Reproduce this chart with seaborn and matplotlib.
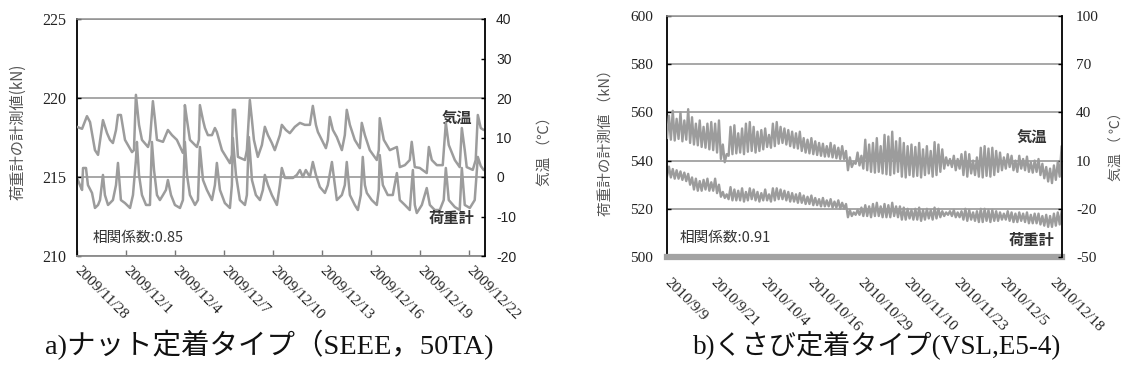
import matplotlib
matplotlib.use("Agg")
import matplotlib.pyplot as plt
import pandas as pd
import seaborn as sns

# ---------------- a) nut anchorage (SEEE, 50TA) ----------------
a_start = "2009/11/28"
a_ticks = ["2009/11/28", "2009/12/1", "2009/12/4", "2009/12/7", "2009/12/10",
           "2009/12/13", "2009/12/16", "2009/12/19", "2009/12/22"]
a_load_ticks = [210, 215, 220, 225]
a_temp_ticks = [-20, -10, 0, 10, 20, 30, 40]

# air temperature (deg C), time in days from the start date
a_temp_day = [0, 0.18, 0.31, 0.61, 0.80, 1.10, 1.29, 1.59, 1.84, 2.02, 2.20, 2.39, 2.51, 2.69,
              2.94, 3.37, 3.49, 3.61, 3.80, 3.98, 4.35, 4.47, 4.65, 4.78, 4.90, 5.27, 5.57, 5.82,
              6.12, 6.49, 6.55, 6.61, 6.74, 6.92, 7.35, 7.47, 7.53, 7.72, 7.84, 8.02, 8.27, 8.45,
              8.57, 8.88, 9.37, 9.49, 9.55, 9.68, 9.86, 10.29, 10.41, 10.59, 10.72, 10.84, 11.08,
              11.33, 11.51, 11.70, 11.94, 12.12, 12.43, 12.55, 12.80, 13.04, 13.35, 13.66, 13.96,
              14.27, 14.45, 14.64, 14.76, 15.00, 15.25, 15.37, 15.49, 15.68, 15.92, 16.23, 16.41,
              16.53, 16.72, 17.02, 17.33, 17.45, 17.64, 17.94, 18.37, 18.49, 18.55, 18.80, 19.17,
              19.60, 19.78, 20.09, 20.39, 20.51, 20.70, 21.00, 21.43, 21.56, 21.74, 22.05, 22.41,
              22.60, 22.78, 23.15, 23.45, 23.58, 23.76, 23.88, 24.25, 24.43, 24.56, 24.74, 24.92]
a_temp_val = [12.7, 12.4, 12.2, 15.4, 13.9, 6.8, 5.6, 14.4, 11.1, 9.4, 8.6, 11.9, 15.7, 15.7,
              9.4, 6.3, 6.8, 20.8, 13.2, 9.4, 7.6, 9.4, 19.2, 14.4, 9.4, 8.9, 11.9, 10.6,
              9.4, 6.1, 6.8, 18.2, 14.4, 9.4, 7.6, 9.4, 18.2, 14.4, 12.4, 10.6, 10.6, 12.4,
              11.4, 6.8, 3.5, 5.6, 17.0, 17.0, 5.1, 4.3, 6.8, 19.5, 14.4, 9.4, 5.1,
              8.1, 12.7, 10.6, 8.6, 6.8, 10.6, 13.2, 11.9, 11.1, 12.7, 13.7, 13.2,
              13.2, 18.0, 13.2, 11.4, 9.4, 7.3, 9.4, 15.2, 11.9, 10.1, 6.8, 10.6,
              17.0, 13.2, 9.4, 7.3, 13.7, 10.6, 6.8, 4.3, 6.8, 14.9, 9.4, 6.8,
              7.6, 2.5, 3.0, 4.3, 8.9, 2.5, 2.3, 1.0, 7.6, 4.3, 3.0, 3.0,
              13.7, 8.1, 4.3, 2.5, 12.4, 6.8, 2.5, 1.8, 4.3, 15.7, 12.4, 11.9]

# load-cell reading (kN)
a_load_day = [0, 0.18, 0.31, 0.37, 0.55, 0.67, 0.92, 1.10, 1.29, 1.41, 1.59, 1.71, 1.90, 2.02,
              2.20, 2.39, 2.51, 2.69, 2.94, 3.25, 3.43, 3.61, 3.67, 3.80, 3.98, 4.23, 4.47, 4.59,
              4.72, 4.90, 5.08, 5.27, 5.45, 5.57, 5.76, 6.00, 6.31, 6.49, 6.61, 6.74, 6.92, 7.23,
              7.41, 7.53, 7.72, 7.96, 8.27, 8.45, 8.57, 8.76, 9.06, 9.37, 9.49, 9.55, 9.74, 9.98,
              10.29, 10.41, 10.53, 10.72, 10.96, 11.21, 11.39, 11.51, 11.70, 11.94, 12.25, 12.43,
              12.55, 12.74, 13.04, 13.23, 13.47, 13.66, 13.84, 14.02, 14.27, 14.45, 14.64, 14.88,
              15.19, 15.37, 15.62, 15.80, 15.92, 16.23, 16.41, 16.53, 16.72, 17.02, 17.21, 17.39,
              17.51, 17.64, 17.76, 18.06, 18.37, 18.49, 18.55, 18.74, 19.04, 19.35, 19.60, 19.78,
              20.09, 20.39, 20.58, 20.70, 20.82, 21.13, 21.43, 21.62, 21.92, 22.23, 22.47, 22.60,
              22.78, 23.15, 23.45, 23.58, 23.76, 24.07, 24.37, 24.56, 24.74, 24.92]
a_load_val = [214.94, 214.49, 214.18, 215.57, 215.57, 214.49, 213.99, 213.04, 213.23, 213.54,
              215.13, 213.86, 213.23, 213.35, 213.54, 214.49, 215.89, 213.54, 213.35, 213.04,
              213.86, 216.08, 217.22, 215.13, 213.86, 213.23, 213.23, 217.22, 215.44, 213.86,
              213.54, 213.86, 214.18, 214.81, 213.86, 213.23, 213.04, 213.54, 217.22, 215.13,
              213.86, 213.23, 213.54, 216.90, 214.81, 214.18, 213.54, 214.49, 215.89, 214.18,
              213.35, 213.04, 214.49, 217.47, 215.13, 213.54, 213.23, 213.86, 217.53, 214.81,
              213.86, 213.54, 214.18, 215.13, 214.49, 213.86, 213.23, 214.49, 215.57, 214.94,
              214.94, 214.94, 215.13, 215.44, 215.00, 215.44, 215.00, 215.95, 215.13, 214.37,
              213.99, 214.49, 215.95, 214.49, 213.54, 213.86, 214.49, 215.95, 213.86, 213.23,
              212.91, 213.86, 216.27, 214.49, 213.99, 213.54, 213.23, 214.18, 216.39, 214.49,
              213.86, 213.86, 215.25, 213.54, 213.23, 212.91, 215.44, 213.23, 212.72, 213.23,
              214.30, 213.23, 212.91, 212.91, 213.54, 215.57, 213.54, 213.10, 212.91, 215.57,
              213.23, 213.04, 213.54, 216.27, 215.70, 215.44]

# ---------------- b) wedge anchorage (VSL, E5-4) ----------------
b_start = "2010/9/9"
b_ticks = ["2010/9/9", "2010/9/21", "2010/10/4", "2010/10/16", "2010/10/29",
           "2010/11/10", "2010/11/23", "2010/12/5", "2010/12/18"]
b_load_ticks = [500, 520, 540, 560, 580, 600]
b_temp_ticks = [-50, -20, 10, 40, 70, 100]

# daily night / daytime air temperature (deg C)
b_temp_low = [24, 23, 22.5, 23.5, 22, 23, 21, 20, 19.5, 18.5, 18, 17, 16.5, 15, 11, 9, 13, 14,
              14.5, 15, 14, 15.5, 16, 15, 16, 17, 18.5, 18, 19, 20.5, 21, 20, 19, 18, 17.5,
              16, 15, 14.5, 14, 13.5, 13, 12.5, 12.5, 12, 11.5, 11, 11, 4, 6, 8, 7, 5, 4, 3,
              2.5, 3, 2, 1.5, 1, 2, 3, 0, -0.5, 1, 0, 0.5, -0.5, 1, 2, 0, 1, 3, 5, 7, 6, 4, 5,
              1, 0, 2, 1, 0, -0.5, 0.5, 0, 1, 3, 4, 5, 6, 4, 3, 5, 4, 3, 2.5, 3, 1, -1, -3,
              -4, -2, 0]
b_temp_high = [38, 41, 36, 40, 35, 42, 37, 33, 35, 31, 33, 34, 33, 35, 20, 14, 31, 32, 27,
               30, 33, 34, 31, 28, 29, 30, 26, 33, 34, 31, 30, 29, 28, 27, 28, 24, 23, 24,
               22, 21, 20.5, 19, 21, 19.5, 18, 19, 16, 12, 9, 15, 13, 23, 20, 21, 24, 19, 26,
               25, 28, 22, 24, 21, 19, 20, 18.5, 21, 17, 19, 16, 21.5, 20, 17, 12, 11, 13,
               11, 14, 15.5, 14, 10, 12, 18, 19, 17.5, 18, 16, 15, 12, 14, 13, 10, 13, 11,
               12.5, 9, 10, 11, 8, 6, 5, 7, 9, 19]

# daily minimum / maximum load-cell reading (kN)
b_load_low = [533.5, 533, 532.5, 532.5, 532, 531.5, 530, 528, 527.5, 527.5, 528, 527.5, 527.5,
              526.5, 525, 524.5, 524, 523.5, 523.5, 523.5, 523, 523.5, 524, 523.5, 523, 523.5,
              523.5, 523, 523.5, 524, 524, 523.5, 523, 523, 522.5, 522.5, 522, 522, 521.5,
              521.5, 521, 521, 521, 520.5, 520.5, 520, 520, 516.5, 517, 517.5, 517.5, 517,
              517, 516.5, 517, 517, 516.5, 516.5, 516.5, 517, 516.5, 515.5, 515.5, 516,
              515.5, 515.5, 515, 515.5, 516, 515.5, 516, 516.5, 517, 517.5, 517, 516.5,
              516.5, 515.5, 515, 515.5, 515, 514.5, 514.5, 515, 514.5, 515, 515, 515.5,
              515.5, 515, 514.5, 514.5, 515, 514.5, 514, 514, 514, 513.5, 513, 512.5, 512.5,
              513, 513.5]
b_load_high = [537.5, 536.5, 536, 535.5, 535, 534.5, 533, 532.5, 531.5, 532, 532.5, 531,
               532.5, 530, 527, 526, 529, 528, 527.5, 528.5, 527, 528.5, 528, 527, 526.5,
               528, 526, 528.5, 528.5, 528, 527.5, 527, 526.5, 526, 526.5, 525.5, 525, 525.5,
               524.5, 524, 524.5, 523.5, 524, 523, 523.5, 522.5, 522, 519.5, 518.5, 519.5,
               520.5, 521.5, 521, 522, 522.5, 521, 522, 521.5, 522.5, 521, 521, 520.5, 520,
               519.5, 520, 520.5, 519.5, 520, 519.5, 520.5, 520, 519, 518.5, 519, 519.5,
               518.5, 519, 520, 519.5, 518.5, 519, 520, 520, 519.5, 519.5, 519, 518.5, 518,
               519, 518.5, 518, 518.5, 518, 518.5, 517.5, 518, 518, 517, 517.5, 517, 518,
               518.5, 519]

# ---------------- styling ----------------
sns.set_theme(style="white")
plt.rcParams["font.family"] = ["Liberation Serif", "Noto Sans CJK JP"]
plt.rcParams["axes.unicode_minus"] = False
CJK = ["Noto Sans CJK JP", "DejaVu Sans"]
LINE = "#9c9c9c"
GRID = "#8f8f8f"
INK = "#222222"
LABEL = "#555555"

W, H = 1128, 378
fig = plt.figure(figsize=(W / 100, H / 100), dpi=100)


def frame(left, top, right, bottom):
    return [left / W, 1 - bottom / H, (right - left) / W, (bottom - top) / H]


def day_offsets(labels, start):
    t0 = pd.to_datetime(start, format="%Y/%m/%d")
    return [(pd.to_datetime(s, format="%Y/%m/%d") - t0).days for s in labels]


def daily_zigzag(low, high):
    days, vals = [], []
    for i, (lo, hi) in enumerate(zip(low, high)):
        days += [i, i + 0.5]
        vals += [lo, hi]
    return days, vals


def style_pair(ax, ax2, bottom_color, bottom_lw, ypad_left, ypad_right,
               fs_left, fs_right, right_family):
    ax.spines["left"].set_color("black")
    ax.spines["left"].set_linewidth(1.3)
    ax.spines["right"].set_visible(False)
    ax.spines["top"].set_color(GRID)
    ax.spines["top"].set_linewidth(1.1)
    ax.spines["bottom"].set_color(bottom_color)
    ax.spines["bottom"].set_linewidth(bottom_lw)
    for s in ("left", "top", "bottom"):
        ax2.spines[s].set_visible(False)
    ax2.spines["right"].set_color("black")
    ax2.spines["right"].set_linewidth(1.3)
    ax.yaxis.grid(True, color=GRID, lw=1.1)
    ax.xaxis.grid(False)
    ax2.grid(False)
    ax.tick_params(axis="y", left=True, direction="in", length=3, width=1, color="black",
                   pad=ypad_left, labelsize=fs_left, labelcolor=INK)
    ax2.tick_params(axis="y", right=True, direction="in", length=3, width=1, color="black",
                    pad=ypad_right, labelsize=fs_right, labelcolor=INK)
    for t in ax2.get_yticklabels():
        t.set_fontfamily(right_family)
    ax.set_xlabel("")
    ax.set_ylabel("")
    ax2.set_ylabel("")


# ---------------- panel a ----------------
axa = fig.add_axes(frame(77, 19, 485, 256))
sns.lineplot(x=a_load_day, y=a_load_val, ax=axa, color=LINE, lw=1.8,
             estimator=None, sort=False)
axa.set_xlim(0, 25)
axa.set_ylim(210, 225)
axa.set_yticks(a_load_ticks)
axa.set_xticks(day_offsets(a_ticks, a_start))
axa.set_xticklabels(a_ticks, rotation=-45, ha="left", va="center",
                    rotation_mode="anchor", fontsize=11, color=INK)
axa.tick_params(axis="x", bottom=True, direction="in", length=4, width=1,
                color="#777777", pad=9)
axa2 = axa.twinx()
sns.lineplot(x=a_temp_day, y=a_temp_val, ax=axa2, color=LINE, lw=1.8,
             estimator=None, sort=False)
axa2.set_ylim(-20, 40)
axa2.set_yticks(a_temp_ticks)
style_pair(axa, axa2, "#8a8a8a", 1.3, 8, 8, 11.5, 10, "Liberation Sans")

axa.text(0.93, 0.585, "気温", transform=axa.transAxes, ha="center", va="center",
         family=CJK, fontsize=11, fontweight="bold", color="#333333")
axa.text(0.918, 0.16, "荷重計", transform=axa.transAxes, ha="center", va="center",
         family=CJK, fontsize=11, fontweight="bold", color="#333333")
axa.text(0.038, 0.076, "相関係数:0.85", transform=axa.transAxes, ha="left", va="center",
         family=CJK, fontsize=10.5, color="#333333")

fig.text(18 / W, 1 - 132 / H, "荷重計の計測値(kN)", rotation=90, ha="center", va="center",
         family=CJK, fontsize=11, color=LABEL)
fig.text(545 / W, 1 - 148 / H, "気温 （℃）", rotation=90, ha="center", va="center",
         family=CJK, fontsize=10.5, color=LABEL)

# ---------------- panel b ----------------
axb = fig.add_axes(frame(667, 16, 1062, 257))
b_load_x, b_load_y = daily_zigzag(b_load_low, b_load_high)
b_temp_x, b_temp_y = daily_zigzag(b_temp_low, b_temp_high)
sns.lineplot(x=b_load_x, y=b_load_y, ax=axb, color=LINE, lw=1.7,
             estimator=None, sort=False)
axb.set_xlim(0, 102.6)
axb.set_ylim(500, 600)
axb.set_yticks(b_load_ticks)
axb.set_xticks(day_offsets(b_ticks, b_start))
axb.set_xticklabels(b_ticks, rotation=-45, ha="left", va="center",
                    rotation_mode="anchor", fontsize=11, color=INK)
axb.tick_params(axis="x", bottom=False, pad=11)
axb2 = axb.twinx()
sns.lineplot(x=b_temp_x, y=b_temp_y, ax=axb2, color=LINE, lw=1.7,
             estimator=None, sort=False)
axb2.set_ylim(-50, 100)
axb2.set_yticks(b_temp_ticks)
style_pair(axb, axb2, "#a3a3a3", 4.5, 10, 10, 11, 11, "Liberation Serif")

axb.text(0.924, 0.50, "気温", transform=axb.transAxes, ha="center", va="center",
         family=CJK, fontsize=11, fontweight="bold", color="#333333")
axb.text(0.924, 0.072, "荷重計", transform=axb.transAxes, ha="center", va="center",
         family=CJK, fontsize=11, fontweight="bold", color="#333333")
axb.text(0.033, 0.08, "相関係数:0.91", transform=axb.transAxes, ha="left", va="center",
         family=CJK, fontsize=10.5, color="#333333")

fig.text(607 / W, 1 - 139 / H, "荷重計の計測値 （kN）", rotation=90, ha="center",
         va="center", family=CJK, fontsize=10.5, color=LABEL)
fig.text(1117 / W, 1 - 143 / H, "気温 （ ℃）", rotation=90, ha="center", va="center",
         family=CJK, fontsize=10, color=LABEL)

# ---------------- captions ----------------
fig.text(45 / W, 1 - 345 / H, "a)ナット定着タイプ（SEEE，50TA)", ha="left", va="center",
         fontsize=20.5, color="#111111")
fig.text(693 / W, 1 - 345 / H, "b)くさび定着タイプ(VSL,E5-4)", ha="left", va="center",
         fontsize=19.5, color="#111111")

fig.savefig("out.png", dpi=100, facecolor="white")
